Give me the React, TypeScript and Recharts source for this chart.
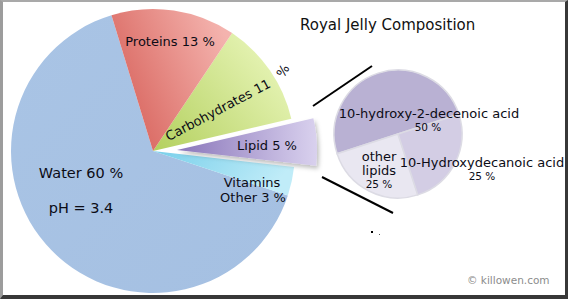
import { PieChart, Pie, Cell } from 'recharts'

// main composition (percent labels as printed on the chart)
const mainNames = ['Water', 'Vitamins Other', 'Lipid', 'Carbohydrates', 'Proteins']
const mainValues = [60, 3, 5, 11, 13]

// breakdown of the lipid slice
const lipidNames = ['10-hydroxy-2-decenoic acid', 'other lipids', '10-Hydroxydecanoic acid']
const lipidValues = [50, 25, 25]

const title = 'Royal Jelly Composition'
const credit = '© killowen.com'

const mainData = mainNames.map((name, i) => ({ name, value: mainValues[i] }))
const lipidData = lipidNames.map((name, i) => ({ name, value: lipidValues[i] }))

const mainFills: Record<string, string> = {
  Water: 'url(#gWater)',
  'Vitamins Other': 'url(#gVit)',
  Lipid: 'url(#gLipid)',
  Carbohydrates: 'url(#gCarb)',
  Proteins: 'url(#gProt)',
}
const lipidFills = ['#b9b1d3', '#e9e7f1', '#d3cde4']

const FONT = '"DejaVu Sans", Verdana, sans-serif'

type Line = { t: string; dx: number; dy: number; size?: number; rotate?: number }

// label placement relative to each pie centre
const mainLabels: Record<string, Line[]> = {
  Water: [
    { t: 'Water 60 %', dx: -72, dy: 22, size: 14.5 },
    { t: 'pH = 3.4', dx: -72, dy: 57, size: 14.5 },
  ],
  'Vitamins Other': [
    { t: 'Vitamins', dx: 99, dy: 31 },
    { t: 'Other 3 %', dx: 100, dy: 46 },
  ],
  Carbohydrates: [
    { t: 'Carbohydrates 11', dx: 65, dy: -41, rotate: -28 },
    { t: '%', dx: 130, dy: -80, rotate: -60 },
  ],
  Proteins: [{ t: 'Proteins 13 %', dx: 17, dy: -110 }],
  Lipid: [{ t: 'Lipid 5 %', dx: 90, dy: -5 }],
}

const subLabels: Record<string, Line[]> = {
  '10-hydroxy-2-decenoic acid': [
    { t: '10-hydroxy-2-decenoic acid', dx: 31, dy: -21 },
    { t: '50 %', dx: 30, dy: -7, size: 10.5 },
  ],
  'other lipids': [
    { t: 'other', dx: -19, dy: 22 },
    { t: 'lipids', dx: -19, dy: 36 },
    { t: '25 %', dx: -19, dy: 50, size: 10.5 },
  ],
  '10-Hydroxydecanoic acid': [
    { t: '10-Hydroxydecanoic acid', dx: 84, dy: 28 },
    { t: '25 %', dx: 84, dy: 42, size: 10.5 },
  ],
}

function drawLines(lines: Line[] | undefined, cx: number, cy: number, key: string) {
  if (!lines) return null
  return (
    <g key={key}>
      {lines.map((l, i) => {
        const x = cx + l.dx
        const y = cy + l.dy
        return (
          <text
            key={i}
            x={x}
            y={y}
            textAnchor="middle"
            dominantBaseline="central"
            fontFamily={FONT}
            fontSize={l.size ?? 13}
            fill="#0c0c16"
            transform={l.rotate ? `rotate(${l.rotate} ${x} ${y})` : undefined}
          >
            {l.t}
          </text>
        )
      })}
    </g>
  )
}

const mainLabel = (props: any) => {
  if (props.name === 'Lipid') return <g />
  return drawLines(mainLabels[props.name], props.cx, props.cy, `m-${props.index}`) ?? <g />
}

const explodedLabel = (props: any) => {
  if (props.name !== 'Lipid') return <g />
  return drawLines(mainLabels.Lipid, props.cx, props.cy, 'lipid') ?? <g />
}

const subLabel = (props: any) =>
  drawLines(subLabels[props.name], props.cx, props.cy, `s-${props.index}`) ?? <g />

export default function App() {
  return (
    <div style={{ position: 'absolute', left: 0, top: 0, width: 568, height: 299, background: '#fff' }}>
      <PieChart width={568} height={299} margin={{ top: 0, right: 0, bottom: 0, left: 0 }}>
        <defs>
          <linearGradient id="gWater" x1="0" y1="0" x2="1" y2="1">
            <stop offset="0%" stopColor="#a9c4e5" />
            <stop offset="100%" stopColor="#a5c0e2" />
          </linearGradient>
          <linearGradient id="gProt" x1="0" y1="0.8" x2="1" y2="0.3">
            <stop offset="0%" stopColor="#d65e57" />
            <stop offset="100%" stopColor="#f4b3ae" />
          </linearGradient>
          <linearGradient id="gCarb" x1="0" y1="1" x2="1" y2="0.3">
            <stop offset="0%" stopColor="#b3d05e" />
            <stop offset="100%" stopColor="#e8f5b8" />
          </linearGradient>
          <linearGradient id="gLipid" x1="0" y1="0.5" x2="1" y2="0.5">
            <stop offset="0%" stopColor="#8a76ba" />
            <stop offset="100%" stopColor="#d9d1ee" />
          </linearGradient>
          <linearGradient id="gVit" x1="0" y1="0" x2="1" y2="0.3">
            <stop offset="0%" stopColor="#78cfea" />
            <stop offset="100%" stopColor="#c0ecf8" />
          </linearGradient>
          <filter id="shadow" x="-10%" y="-10%" width="130%" height="130%">
            <feDropShadow dx="2" dy="3" stdDeviation="2" floodColor="#000" floodOpacity="0.25" />
          </filter>
        </defs>
        <Pie
          data={mainData}
          dataKey="value"
          nameKey="name"
          cx={153}
          cy={151}
          outerRadius={142}
          startAngle={107}
          endAngle={467}
          stroke="none"
          label={mainLabel}
          labelLine={false}
          isAnimationActive={false}
        >
          {mainData.map((d) => (
            <Cell key={d.name} fill={d.name === 'Lipid' ? 'transparent' : mainFills[d.name]} />
          ))}
        </Pie>
        <Pie
          data={mainData}
          dataKey="value"
          nameKey="name"
          cx={177}
          cy={150}
          outerRadius={140}
          startAngle={107}
          endAngle={467}
          stroke="none"
          label={explodedLabel}
          labelLine={false}
          isAnimationActive={false}
        >
          {mainData.map((d) => (
            <Cell
              key={d.name}
              fill={d.name === 'Lipid' ? mainFills[d.name] : 'transparent'}
              filter={d.name === 'Lipid' ? 'url(#shadow)' : undefined}
            />
          ))}
        </Pie>
        <Pie
          data={lipidData}
          dataKey="value"
          nameKey="name"
          cx={398}
          cy={134}
          outerRadius={64}
          startAngle={18}
          endAngle={378}
          stroke="#dcdbe4"
          strokeWidth={1.5}
          label={subLabel}
          labelLine={false}
          isAnimationActive={false}
        >
          {lipidData.map((d, i) => (
            <Cell key={d.name} fill={lipidFills[i]} />
          ))}
        </Pie>
        <line x1={313} y1={106} x2={372} y2={66} stroke="#000" strokeWidth={2} />
        <line x1={322} y1={177} x2={393} y2={213} stroke="#000" strokeWidth={2} />
        <rect x={371} y={231} width={2} height={2} fill="#000" />
        <rect x={379} y={234} width={1} height={1} fill="#555" />
        <text x={300} y={30} fontFamily={FONT} fontSize={15} fill="#111">
          {title}
        </text>
        <text x={467} y={284} fontFamily={FONT} fontSize={10.5} fill="#8c8c8c">
          {credit}
        </text>
      </PieChart>
      <div
        style={{
          position: 'absolute',
          inset: 0,
          boxSizing: 'border-box',
          borderLeft: '3px solid #9c9c9c',
          borderTop: '2px solid #a9a9a9',
          borderRight: '3px solid #383838',
          borderBottom: '4px solid #383838',
          pointerEvents: 'none',
        }}
      />
    </div>
  )
}
